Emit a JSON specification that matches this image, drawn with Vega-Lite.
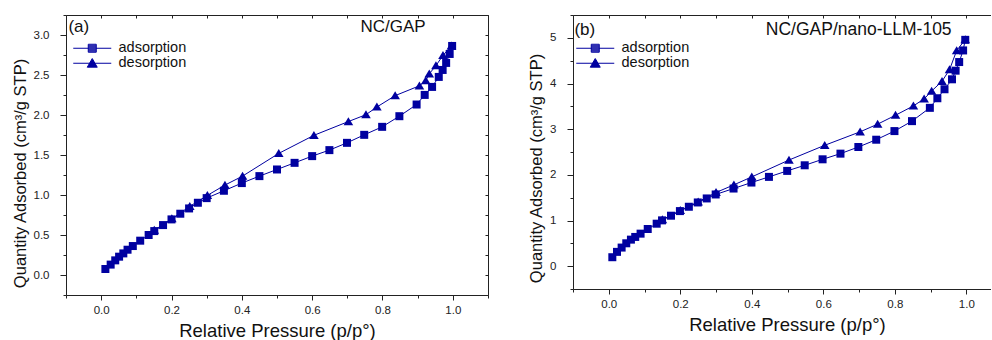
{
  "$schema": "https://vega.github.io/schema/vega-lite/v6.json",
  "padding": {"left": 12, "top": 9, "right": 0, "bottom": 0},
  "background": "white",
  "config": {
    "view": {"stroke": null},
    "font": "Liberation Sans",
    "axis": {"grid": false, "domainColor": "#222", "tickColor": "#222", "labelColor": "#222", "titleColor": "#111", "labelFont": "Liberation Sans", "titleFont": "Liberation Sans", "titleFontWeight": "normal", "labelFontSize": 11.5, "domainWidth": 1, "tickWidth": 1}
  },
  "datasets": {
    "a": [
      {"p": 0.012, "q": 0.075, "series": "adsorption"},
      {"p": 0.027, "q": 0.13, "series": "adsorption"},
      {"p": 0.04, "q": 0.183, "series": "adsorption"},
      {"p": 0.051, "q": 0.229, "series": "adsorption"},
      {"p": 0.063, "q": 0.27, "series": "adsorption"},
      {"p": 0.075, "q": 0.316, "series": "adsorption"},
      {"p": 0.09, "q": 0.362, "series": "adsorption"},
      {"p": 0.111, "q": 0.429, "series": "adsorption"},
      {"p": 0.135, "q": 0.5, "series": "adsorption"},
      {"p": 0.151, "q": 0.549, "series": "adsorption"},
      {"p": 0.176, "q": 0.624, "series": "adsorption"},
      {"p": 0.2, "q": 0.695, "series": "adsorption"},
      {"p": 0.225, "q": 0.766, "series": "adsorption"},
      {"p": 0.25, "q": 0.832, "series": "adsorption"},
      {"p": 0.275, "q": 0.903, "series": "adsorption"},
      {"p": 0.3, "q": 0.961, "series": "adsorption"},
      {"p": 0.349, "q": 1.053, "series": "adsorption"},
      {"p": 0.4, "q": 1.149, "series": "adsorption"},
      {"p": 0.45, "q": 1.236, "series": "adsorption"},
      {"p": 0.5, "q": 1.319, "series": "adsorption"},
      {"p": 0.55, "q": 1.402, "series": "adsorption"},
      {"p": 0.6, "q": 1.486, "series": "adsorption"},
      {"p": 0.649, "q": 1.561, "series": "adsorption"},
      {"p": 0.699, "q": 1.652, "series": "adsorption"},
      {"p": 0.748, "q": 1.752, "series": "adsorption"},
      {"p": 0.799, "q": 1.852, "series": "adsorption"},
      {"p": 0.848, "q": 1.985, "series": "adsorption"},
      {"p": 0.897, "q": 2.131, "series": "adsorption"},
      {"p": 0.92, "q": 2.251, "series": "adsorption"},
      {"p": 0.941, "q": 2.351, "series": "adsorption"},
      {"p": 0.96, "q": 2.476, "series": "adsorption"},
      {"p": 0.971, "q": 2.563, "series": "adsorption"},
      {"p": 0.981, "q": 2.651, "series": "adsorption"},
      {"p": 0.991, "q": 2.763, "series": "adsorption"},
      {"p": 0.998, "q": 2.863, "series": "adsorption"},
      {"p": 0.996, "q": 2.863, "series": "desorption"},
      {"p": 0.972, "q": 2.745, "series": "desorption"},
      {"p": 0.952, "q": 2.617, "series": "desorption"},
      {"p": 0.933, "q": 2.515, "series": "desorption"},
      {"p": 0.923, "q": 2.43, "series": "desorption"},
      {"p": 0.905, "q": 2.365, "series": "desorption"},
      {"p": 0.836, "q": 2.242, "series": "desorption"},
      {"p": 0.784, "q": 2.1, "series": "desorption"},
      {"p": 0.753, "q": 2.004, "series": "desorption"},
      {"p": 0.703, "q": 1.918, "series": "desorption"},
      {"p": 0.605, "q": 1.746, "series": "desorption"},
      {"p": 0.505, "q": 1.52, "series": "desorption"},
      {"p": 0.402, "q": 1.236, "series": "desorption"},
      {"p": 0.352, "q": 1.124, "series": "desorption"},
      {"p": 0.302, "q": 0.995, "series": "desorption"},
      {"p": 0.252, "q": 0.857, "series": "desorption"},
      {"p": 0.201, "q": 0.703, "series": "desorption"},
      {"p": 0.151, "q": 0.56, "series": "desorption"}
    ],
    "b": [
      {"p": 0.01, "q": 0.196, "series": "adsorption"},
      {"p": 0.023, "q": 0.313, "series": "adsorption"},
      {"p": 0.036, "q": 0.407, "series": "adsorption"},
      {"p": 0.049, "q": 0.501, "series": "adsorption"},
      {"p": 0.062, "q": 0.581, "series": "adsorption"},
      {"p": 0.074, "q": 0.64, "series": "adsorption"},
      {"p": 0.089, "q": 0.712, "series": "adsorption"},
      {"p": 0.109, "q": 0.814, "series": "adsorption"},
      {"p": 0.134, "q": 0.93, "series": "adsorption"},
      {"p": 0.149, "q": 1.003, "series": "adsorption"},
      {"p": 0.174, "q": 1.105, "series": "adsorption"},
      {"p": 0.199, "q": 1.206, "series": "adsorption"},
      {"p": 0.224, "q": 1.301, "series": "adsorption"},
      {"p": 0.249, "q": 1.395, "series": "adsorption"},
      {"p": 0.274, "q": 1.483, "series": "adsorption"},
      {"p": 0.299, "q": 1.57, "series": "adsorption"},
      {"p": 0.349, "q": 1.7, "series": "adsorption"},
      {"p": 0.399, "q": 1.831, "series": "adsorption"},
      {"p": 0.448, "q": 1.955, "series": "adsorption"},
      {"p": 0.499, "q": 2.086, "series": "adsorption"},
      {"p": 0.548, "q": 2.209, "series": "adsorption"},
      {"p": 0.598, "q": 2.34, "series": "adsorption"},
      {"p": 0.648, "q": 2.464, "series": "adsorption"},
      {"p": 0.698, "q": 2.609, "series": "adsorption"},
      {"p": 0.748, "q": 2.769, "series": "adsorption"},
      {"p": 0.799, "q": 2.958, "series": "adsorption"},
      {"p": 0.848, "q": 3.176, "series": "adsorption"},
      {"p": 0.898, "q": 3.467, "series": "adsorption"},
      {"p": 0.919, "q": 3.677, "series": "adsorption"},
      {"p": 0.939, "q": 3.874, "series": "adsorption"},
      {"p": 0.96, "q": 4.092, "series": "adsorption"},
      {"p": 0.97, "q": 4.281, "series": "adsorption"},
      {"p": 0.98, "q": 4.47, "series": "adsorption"},
      {"p": 0.991, "q": 4.724, "series": "adsorption"},
      {"p": 0.997, "q": 4.956, "series": "adsorption"},
      {"p": 0.997, "q": 4.962, "series": "desorption"},
      {"p": 0.973, "q": 4.722, "series": "desorption"},
      {"p": 0.953, "q": 4.302, "series": "desorption"},
      {"p": 0.932, "q": 4.048, "series": "desorption"},
      {"p": 0.903, "q": 3.835, "series": "desorption"},
      {"p": 0.882, "q": 3.662, "series": "desorption"},
      {"p": 0.852, "q": 3.51, "series": "desorption"},
      {"p": 0.802, "q": 3.305, "series": "desorption"},
      {"p": 0.752, "q": 3.11, "series": "desorption"},
      {"p": 0.703, "q": 2.942, "series": "desorption"},
      {"p": 0.604, "q": 2.647, "series": "desorption"},
      {"p": 0.504, "q": 2.324, "series": "desorption"},
      {"p": 0.4, "q": 1.955, "series": "desorption"},
      {"p": 0.35, "q": 1.781, "series": "desorption"},
      {"p": 0.3, "q": 1.613, "series": "desorption"},
      {"p": 0.25, "q": 1.41, "series": "desorption"},
      {"p": 0.2, "q": 1.22, "series": "desorption"},
      {"p": 0.15, "q": 1.02, "series": "desorption"}
    ]
  },
  "bounds": "flush",
  "spacing": 85,
  "resolve": {"scale": {"shape": "independent"}, "legend": {"shape": "independent"}},
  "hconcat": [
    {
      "width": 422,
      "height": 280,
      "data": {"name": "a"},
      "resolve": {"axis": {"x": "independent", "y": "independent"}},
      "layer": [
        {
          "transform": [{"filter": "datum.series === 'adsorption'"}],
          "mark": {"type": "line", "color": "#0000a0", "strokeWidth": 1},
          "encoding": {
            "x": {"field": "p", "type": "quantitative", "scale": {"domain": [-0.1, 1.1], "nice": false, "zero": false},
              "axis": {"orient": "bottom", "values": [-0.1, 0, 0.1, 0.2, 0.3, 0.4, 0.5, 0.6, 0.7, 0.8, 0.9, 1, 1.1],
                "labelExpr": "abs(datum.value*5-round(datum.value*5))<0.001 ? format(datum.value,'.1f') : ''",
                "tickSize": {"condition": {"test": "abs(datum.value*5-round(datum.value*5))<0.001", "value": 5}, "value": 3},
                "labelPadding": 4, "labelFlush": false, "labelOverlap": false,
                "title": "Relative Pressure (p/p°)", "titleFontSize": 18.5, "titlePadding": 6}},
            "y": {"field": "q", "type": "quantitative", "scale": {"domain": [-0.25, 3.25], "nice": false, "zero": false},
              "axis": {"orient": "left", "values": [-0.25, 0, 0.25, 0.5, 0.75, 1, 1.25, 1.5, 1.75, 2, 2.25, 2.5, 2.75, 3, 3.25],
                "labelExpr": "abs(datum.value*2-round(datum.value*2))<0.001 ? format(datum.value,'.1f') : ''",
                "tickSize": {"condition": {"test": "abs(datum.value*2-round(datum.value*2))<0.001", "value": 6}, "value": 3},
                "labelPadding": 11, "labelOverlap": false, "labelFlush": false,
                "title": "Quantity Adsorbed (cm³/g STP)", "titleFontSize": 16.5, "titlePadding": 5, "titleY": 158}}
          }
        },
        {
          "transform": [{"filter": "datum.series === 'desorption'"}],
          "mark": {"type": "line", "color": "#0000a0", "strokeWidth": 1},
          "encoding": {
            "x": {"field": "p", "type": "quantitative", "scale": {"domain": [-0.1, 1.1], "nice": false, "zero": false},
              "axis": {"orient": "top", "values": [-0.1, 0, 0.1, 0.2, 0.3, 0.4, 0.5, 0.6, 0.7, 0.8, 0.9, 1, 1.1], "labels": false, "tickSize": -3, "title": null}},
            "y": {"field": "q", "type": "quantitative", "scale": {"domain": [-0.25, 3.25], "nice": false, "zero": false},
              "axis": {"orient": "right", "values": [-0.25, 0, 0.25, 0.5, 0.75, 1, 1.25, 1.5, 1.75, 2, 2.25, 2.5, 2.75, 3, 3.25], "labels": false, "tickSize": -3, "title": null}}
          }
        },
        {
          "transform": [{"filter": "datum.series === 'adsorption'"}],
          "mark": {"type": "point", "filled": true, "color": "#0000a0", "opacity": 1, "size": 64, "shape": "M-1,-1H1V1H-1Z"},
          "encoding": {
            "x": {"field": "p", "type": "quantitative", "scale": {"domain": [-0.1, 1.1], "nice": false, "zero": false}, "axis": null},
            "y": {"field": "q", "type": "quantitative", "scale": {"domain": [-0.25, 3.25], "nice": false, "zero": false}, "axis": null}
          }
        },
        {
          "transform": [{"filter": "datum.series === 'desorption'"}],
          "mark": {"type": "point", "filled": true, "color": "#0000a0", "opacity": 1, "size": 64, "shape": "M0,-1.1L1.2,0.9H-1.2Z"},
          "encoding": {
            "x": {"field": "p", "type": "quantitative", "scale": {"domain": [-0.1, 1.1], "nice": false, "zero": false}, "axis": null},
            "y": {"field": "q", "type": "quantitative", "scale": {"domain": [-0.25, 3.25], "nice": false, "zero": false}, "axis": null}
          }
        },
        {
          "transform": [{"filter": "datum.series === 'none'"}],
          "mark": {"type": "point", "filled": false, "color": "#0000a0", "strokeWidth": 1, "opacity": 1, "size": 100},
          "encoding": {
            "x": {"field": "p", "type": "quantitative", "scale": {"domain": [-0.1, 1.1], "nice": false, "zero": false}, "axis": null},
            "y": {"field": "q", "type": "quantitative", "scale": {"domain": [-0.25, 3.25], "nice": false, "zero": false}, "axis": null},
            "shape": {"field": "series", "type": "nominal", "scale": {"domain": ["adsorption", "desorption"], "range": [
              "M-3.8,0H3.8M-0.8,-0.8H0.8V0.8H-0.8ZM-0.8,-0.6H0.8M-0.8,-0.4H0.8M-0.8,-0.2H0.8M-0.8,0.2H0.8M-0.8,0.4H0.8M-0.8,0.6H0.8",
              "M-3.8,0H3.8M0,-0.95L1,0.8H-1ZM-0.11,-0.75H0.11M-0.23,-0.55H0.23M-0.34,-0.35H0.34M-0.46,-0.15H0.46M-0.57,0.05H0.57M-0.69,0.25H0.69M-0.8,0.45H0.8M-0.91,0.65H0.91"]},
              "legend": {"orient": "none", "legendX": 19, "legendY": 26, "title": null, "padding": 0, "labelFontSize": 14.5, "labelFont": "Liberation Sans", "labelColor": "#111",
                "symbolSize": 100, "symbolOpacity": 1, "symbolStrokeColor": "#0000a0", "symbolStrokeWidth": 1, "labelOffset": 19, "rowPadding": 0}}
          }
        },
        {
          "data": {"values": [{}]},
          "mark": {"type": "text", "align": "left", "baseline": "middle", "fontSize": 17, "font": "Liberation Sans", "color": "#111"},
          "encoding": {
            "x": {"datum": -0.093, "type": "quantitative", "scale": {"domain": [-0.1, 1.1], "nice": false, "zero": false}, "axis": null},
            "y": {"datum": 3.1, "type": "quantitative", "scale": {"domain": [-0.25, 3.25], "nice": false, "zero": false}, "axis": null},
            "text": {"value": "(a)"}
          }
        },
        {
          "data": {"values": [{}]},
          "mark": {"type": "text", "align": "center", "baseline": "middle", "fontSize": 17, "font": "Liberation Sans", "color": "#111"},
          "encoding": {
            "x": {"datum": 0.83, "type": "quantitative", "scale": {"domain": [-0.1, 1.1], "nice": false, "zero": false}, "axis": null},
            "y": {"datum": 3.1, "type": "quantitative", "scale": {"domain": [-0.25, 3.25], "nice": false, "zero": false}, "axis": null},
            "text": {"value": "NC/GAP"}
          }
        }
      ]
    },
    {
      "width": 418,
      "height": 274,
      "data": {"name": "b"},
      "resolve": {"axis": {"x": "independent", "y": "independent"}},
      "layer": [
        {
          "transform": [{"filter": "datum.series === 'adsorption'"}],
          "mark": {"type": "line", "color": "#0000a0", "strokeWidth": 1},
          "encoding": {
            "x": {"field": "p", "type": "quantitative", "scale": {"domain": [-0.1, 1.069], "nice": false, "zero": false},
              "axis": {"orient": "bottom", "values": [-0.1, 0, 0.1, 0.2, 0.3, 0.4, 0.5, 0.6, 0.7, 0.8, 0.9, 1],
                "labelExpr": "abs(datum.value*5-round(datum.value*5))<0.001 ? format(datum.value,'.1f') : ''",
                "tickSize": {"condition": {"test": "abs(datum.value*5-round(datum.value*5))<0.001", "value": 5}, "value": 3},
                "labelPadding": 4, "labelFlush": false, "labelOverlap": false,
                "title": "Relative Pressure (p/p°)", "titleFontSize": 18.5, "titlePadding": 6, "titleX": 214}},
            "y": {"field": "q", "type": "quantitative", "scale": {"domain": [-0.5, 5.5], "nice": false, "zero": false},
              "axis": {"orient": "left", "values": [-0.5, 0, 0.5, 1, 1.5, 2, 2.5, 3, 3.5, 4, 4.5, 5, 5.5],
                "labelExpr": "abs(datum.value-round(datum.value))<0.001 ? format(datum.value,'d') : ''",
                "tickSize": {"condition": {"test": "abs(datum.value-round(datum.value))<0.001", "value": 6}, "value": 3},
                "labelPadding": 11, "labelOverlap": false, "labelFlush": false,
                "title": "Quantity Adsorbed (cm³/g STP)", "titleFontSize": 16.5, "titlePadding": 5, "titleY": 153}}
          }
        },
        {
          "transform": [{"filter": "datum.series === 'desorption'"}],
          "mark": {"type": "line", "color": "#0000a0", "strokeWidth": 1},
          "encoding": {
            "x": {"field": "p", "type": "quantitative", "scale": {"domain": [-0.1, 1.069], "nice": false, "zero": false},
              "axis": {"orient": "top", "values": [-0.1, 0, 0.1, 0.2, 0.3, 0.4, 0.5, 0.6, 0.7, 0.8, 0.9, 1], "labels": false, "tickSize": -3, "title": null}},
            "y": {"field": "q", "type": "quantitative", "scale": {"domain": [-0.5, 5.5], "nice": false, "zero": false}, "axis": null}
          }
        },
        {
          "transform": [{"filter": "datum.series === 'adsorption'"}],
          "mark": {"type": "point", "filled": true, "color": "#0000a0", "opacity": 1, "size": 64, "shape": "M-1,-1H1V1H-1Z"},
          "encoding": {
            "x": {"field": "p", "type": "quantitative", "scale": {"domain": [-0.1, 1.069], "nice": false, "zero": false}, "axis": null},
            "y": {"field": "q", "type": "quantitative", "scale": {"domain": [-0.5, 5.5], "nice": false, "zero": false}, "axis": null}
          }
        },
        {
          "transform": [{"filter": "datum.series === 'desorption'"}],
          "mark": {"type": "point", "filled": true, "color": "#0000a0", "opacity": 1, "size": 64, "shape": "M0,-1.1L1.2,0.9H-1.2Z"},
          "encoding": {
            "x": {"field": "p", "type": "quantitative", "scale": {"domain": [-0.1, 1.069], "nice": false, "zero": false}, "axis": null},
            "y": {"field": "q", "type": "quantitative", "scale": {"domain": [-0.5, 5.5], "nice": false, "zero": false}, "axis": null}
          }
        },
        {
          "transform": [{"filter": "datum.series === 'none'"}],
          "mark": {"type": "point", "filled": false, "color": "#0000a0", "strokeWidth": 1, "opacity": 1, "size": 100},
          "encoding": {
            "x": {"field": "p", "type": "quantitative", "scale": {"domain": [-0.1, 1.069], "nice": false, "zero": false}, "axis": null},
            "y": {"field": "q", "type": "quantitative", "scale": {"domain": [-0.5, 5.5], "nice": false, "zero": false}, "axis": null},
            "shape": {"field": "series", "type": "nominal", "scale": {"domain": ["adsorption", "desorption"], "range": [
              "M-3.8,0H3.8M-0.8,-0.8H0.8V0.8H-0.8ZM-0.8,-0.6H0.8M-0.8,-0.4H0.8M-0.8,-0.2H0.8M-0.8,0.2H0.8M-0.8,0.4H0.8M-0.8,0.6H0.8",
              "M-3.8,0H3.8M0,-0.95L1,0.8H-1ZM-0.11,-0.75H0.11M-0.23,-0.55H0.23M-0.34,-0.35H0.34M-0.46,-0.15H0.46M-0.57,0.05H0.57M-0.69,0.25H0.69M-0.8,0.45H0.8M-0.91,0.65H0.91"]},
              "legend": {"orient": "none", "legendX": 15, "legendY": 26, "title": null, "padding": 0, "labelFontSize": 14.5, "labelFont": "Liberation Sans", "labelColor": "#111",
                "symbolSize": 100, "symbolOpacity": 1, "symbolStrokeColor": "#0000a0", "symbolStrokeWidth": 1, "labelOffset": 19, "rowPadding": 0}}
          }
        },
        {
          "data": {"values": [{}]},
          "mark": {"type": "text", "align": "left", "baseline": "middle", "fontSize": 17, "font": "Liberation Sans", "color": "#111"},
          "encoding": {
            "x": {"datum": -0.096, "type": "quantitative", "scale": {"domain": [-0.1, 1.069], "nice": false, "zero": false}, "axis": null},
            "y": {"datum": 5.17, "type": "quantitative", "scale": {"domain": [-0.5, 5.5], "nice": false, "zero": false}, "axis": null},
            "text": {"value": "(b)"}
          }
        },
        {
          "data": {"values": [{}]},
          "mark": {"type": "text", "align": "center", "baseline": "middle", "fontSize": 17.5, "font": "Liberation Sans", "color": "#111"},
          "encoding": {
            "x": {"datum": 0.699, "type": "quantitative", "scale": {"domain": [-0.1, 1.069], "nice": false, "zero": false}, "axis": null},
            "y": {"datum": 5.18, "type": "quantitative", "scale": {"domain": [-0.5, 5.5], "nice": false, "zero": false}, "axis": null},
            "text": {"value": "NC/GAP/nano-LLM-105"}
          }
        }
      ]
    }
  ]
}
